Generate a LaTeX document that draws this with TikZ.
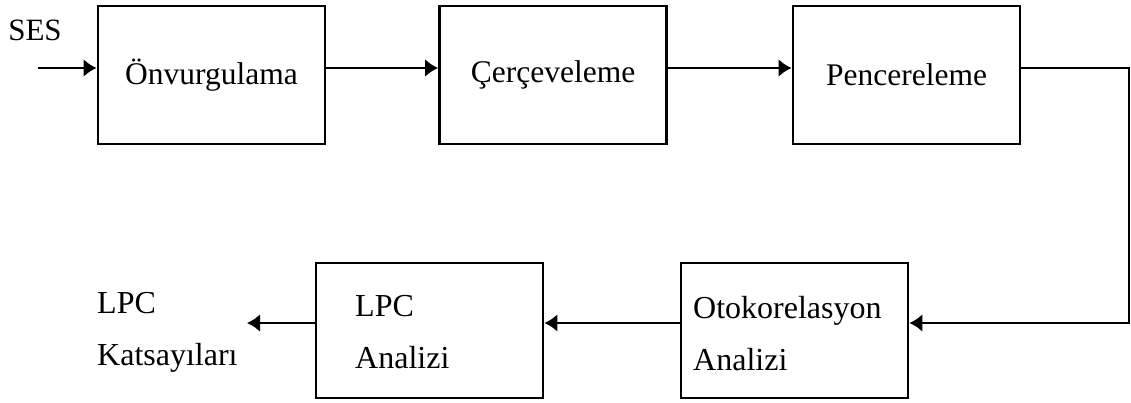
\documentclass[tikz,border=0pt]{standalone}
\usepackage{fontspec}
\setmainfont{Liberation Serif}
\usetikzlibrary{arrows.meta}
\begin{document}
\begin{tikzpicture}[x=1pt,y=-1pt,
  box/.style={draw,line width=2.8pt,minimum width=227pt,minimum height=138pt,inner sep=0pt,font=\fontsize{31.5}{36}\selectfont},
  lowbox/.style={box,minimum height=135pt},
  txt/.style={inner sep=0pt,anchor=west,align=left,font=\fontsize{32}{52}\selectfont},
  conn/.style={line width=2.8pt,-{Latex[length=13pt,width=18pt]}}]
\useasboundingbox (0,0) rectangle (1131,403);
\node[box] (b1) at (211.5,75) {Önvurgulama};
\node[box] (b2) at (553,75) {Çerçeveleme};
\node[box] (b3) at (906.5,75) {Pencereleme};
\node[lowbox] (b4) at (794.5,330.5) {};
\node[lowbox] (b5) at (429.5,330.5) {};
\node[txt] (t4) at (693,334) {Otokorelasyon\\Analizi};
\node[txt] (t5) at (355,332) {LPC\\Analizi};
\node[txt] (lpc) at (97,332) {LPC\\Katsayıları};
\node[inner sep=0pt,font=\fontsize{31}{36}\selectfont] (ses) at (35,30) {SES};
\coordinate (in) at (38,68);
\coordinate (turn) at (1129,323);
\coordinate (out) at (247,323);
\draw[conn] (in) -- (in -| b1.west);
\draw[conn] (in -| b1.east) -- (in -| b2.west);
\draw[conn] (in -| b2.east) -- (in -| b3.west);
\draw[conn] (in -| b3.east) -| (turn) -- (turn -| b4.east);
\draw[conn] (turn -| b4.west) -- (turn -| b5.east);
\draw[conn] (turn -| b5.west) -- (out);
\end{tikzpicture}
\end{document}
